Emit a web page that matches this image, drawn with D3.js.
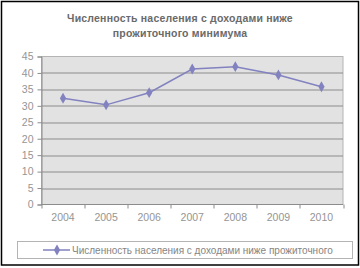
<!DOCTYPE html>
<html>
<head>
<meta charset="utf-8">
<script src="https://cdn.jsdelivr.net/npm/d3@7"></script>
<style>
  body { margin: 0; background: #fff; }
  svg { display: block; font-family: "Liberation Sans", Arial, sans-serif; }
</style>
</head>
<body>
<svg id="chart" width="360" height="268"></svg>
<script>
var years = ["2004", "2005", "2006", "2007", "2008", "2009", "2010"];
var values = [32.3, 30.3, 34.0, 41.2, 41.9, 39.4, 35.8];
var yTicks = [0, 5, 10, 15, 20, 25, 30, 35, 40, 45];
var titleLines = ["Численность населения с доходами ниже", "прожиточного минимума"];
var seriesName = "Численность населения с доходами ниже прожиточного";

var svg = d3.select("#chart"),
    margin = {top: 56.5, right: 17, bottom: 63.5, left: 41.5},
    width = 360 - margin.left - margin.right,
    height = 268 - margin.top - margin.bottom,
    lineColor = "#8282c0";

// outer frame
svg.append("rect")
  .attr("x", 1.5).attr("y", 1.5)
  .attr("width", 357).attr("height", 263.5)
  .attr("fill", "#fff").attr("stroke", "#000").attr("stroke-width", 1.5);

svg.append("text")
  .attr("x", 180).attr("y", 22)
  .attr("text-anchor", "middle")
  .style("font-size", "10.5px").style("font-weight", "bold").style("fill", "#6a6a6a")
  .style("letter-spacing", "0.2px")
  .selectAll("tspan").data(titleLines).enter().append("tspan")
    .attr("x", 180).attr("dy", function(d, i) { return i ? 15 : 0; })
    .text(function(d) { return d; });

var x = d3.scaleBand().domain(years).range([0, width]);
var y = d3.scaleLinear().domain([0, 45]).range([height, 0]);

var vis = svg.append("g")
  .attr("transform", "translate(" + margin.left + "," + margin.top + ")");

vis.append("rect")
  .attr("width", width).attr("height", height)
  .attr("fill", "#e2e2e2").attr("stroke", "#b4b4b4");

vis.selectAll(".grid").data(yTicks.slice(1, -1)).enter().append("line")
  .attr("x1", 0).attr("x2", width)
  .attr("y1", function(d) { return Math.round(y(d)) + 0.5; })
  .attr("y2", function(d) { return Math.round(y(d)) + 0.5; })
  .attr("stroke", "#8c8c8c");

var yAxis = vis.append("g")
  .call(d3.axisLeft(y).tickValues(yTicks).tickSize(4).tickPadding(4));
yAxis.select(".domain").attr("stroke", "#8c8c8c");
yAxis.selectAll(".tick line").attr("stroke", "#8c8c8c");
yAxis.selectAll("text").style("font-size", "10.5px").style("fill", "#959595").attr("font-family", null);

// category boundary ticks
var xAxis = vis.append("g").attr("transform", "translate(0," + height + ")");
xAxis.append("line").attr("x1", 0).attr("x2", width).attr("stroke", "#8c8c8c");
xAxis.selectAll(".bt").data(d3.range(years.length + 1)).enter().append("line")
  .attr("x1", function(i) { return Math.round(i * x.step()) + 0.5; })
  .attr("x2", function(i) { return Math.round(i * x.step()) + 0.5; })
  .attr("y1", 0).attr("y2", 4)
  .attr("stroke", "#8c8c8c");
xAxis.selectAll(".lbl").data(years).enter().append("text")
  .attr("x", function(d) { return x(d) + x.bandwidth() / 2; })
  .attr("y", 16)
  .attr("text-anchor", "middle")
  .style("font-size", "10.5px").style("fill", "#959595")
  .text(function(d) { return d; });

var line = d3.line()
  .x(function(d, i) { return x(years[i]) + x.bandwidth() / 2; })
  .y(function(d) { return y(d); });

vis.append("path").datum(values)
  .attr("d", line).attr("fill", "none")
  .attr("stroke", lineColor).attr("stroke-width", 1.5);

var diamond = d3.symbol().type(d3.symbolDiamond).size(34);
vis.selectAll(".pt").data(values).enter().append("path")
  .attr("d", diamond)
  .attr("transform", function(d, i) {
    return "translate(" + (x(years[i]) + x.bandwidth() / 2) + "," + y(d) + ")";
  })
  .attr("fill", lineColor);

// legend
var legend = svg.append("g");
legend.append("rect")
  .attr("x", 17.5).attr("y", 241.5).attr("width", 335).attr("height", 17)
  .attr("fill", "#fff").attr("stroke", "#b4b4b4");
legend.append("line")
  .attr("x1", 43).attr("x2", 70).attr("y1", 250).attr("y2", 250)
  .attr("stroke", lineColor).attr("stroke-width", 1.5);
legend.append("path")
  .attr("d", diamond).attr("transform", "translate(57,250)").attr("fill", lineColor);
legend.append("text")
  .attr("x", 72).attr("y", 253.5)
  .style("font-size", "10px").style("fill", "#858585")
  .text(seriesName);
</script>
</body>
</html>
